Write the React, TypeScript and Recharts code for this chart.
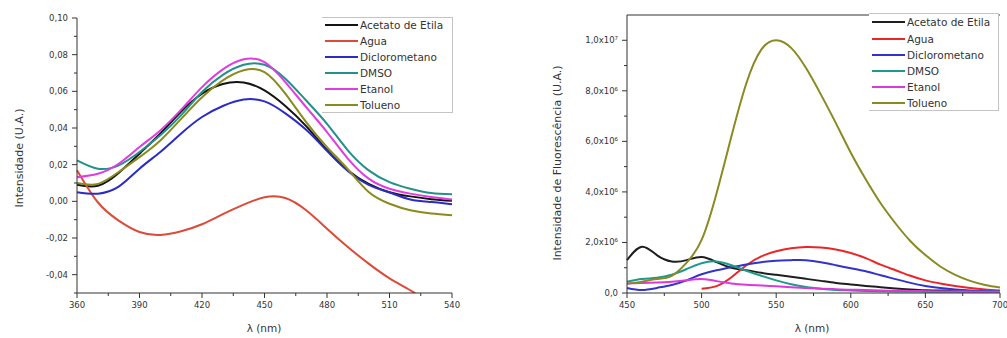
import React from 'react';
import { LineChart, Line, XAxis, YAxis, ReferenceLine } from 'recharts';

// ---------- Absorption (left) ----------
const absWavelengths = [360, 370, 380, 390, 400, 410, 420, 430, 440, 450, 460, 470, 480, 490, 500, 510, 520, 530, 540];
const absAcetato = [0.009, 0.0085, 0.0155, 0.026, 0.037, 0.049, 0.0587, 0.064, 0.0648, 0.0605, 0.052, 0.041, 0.028, 0.017, 0.0095, 0.005, 0.0027, 0.0012, 0.0003];
const absAgua = [0.017, -0.0005, -0.0105, -0.0167, -0.0183, -0.0163, -0.0125, -0.007, -0.0018, 0.0022, 0.0018, -0.0049, -0.0149, -0.0249, -0.034, -0.042, -0.0485, -0.056, -0.063];
const absDicloro = [0.005, 0.0042, 0.008, 0.0178, 0.0269, 0.037, 0.046, 0.052, 0.0555, 0.0545, 0.048, 0.039, 0.0275, 0.0165, 0.009, 0.0048, 0.001, -0.0004, -0.0016];
const absDMSO = [0.0223, 0.0178, 0.0196, 0.0269, 0.036, 0.047, 0.0596, 0.069, 0.0745, 0.0745, 0.0669, 0.055, 0.0423, 0.0278, 0.0169, 0.0105, 0.0069, 0.0045, 0.0038];
const absEtanol = [0.0132, 0.015, 0.0205, 0.0296, 0.0387, 0.05, 0.0623, 0.072, 0.0775, 0.0759, 0.065, 0.0514, 0.0378, 0.0233, 0.0124, 0.0069, 0.0042, 0.0024, 0.001];
const absTolueno = [0.01, 0.0095, 0.016, 0.0241, 0.0332, 0.045, 0.0568, 0.066, 0.0715, 0.0705, 0.0587, 0.0432, 0.0296, 0.0175, 0.0051, -0.0013, -0.0049, -0.0067, -0.0076];

const absXTicks = [360, 390, 420, 450, 480, 510, 540];
const absXMinor = [375, 405, 435, 465, 495, 525];
const absYTicks = [-0.04, -0.02, 0, 0.02, 0.04, 0.06, 0.08, 0.1];
const absYLabels = ['-0,04', '-0,02', '0,00', '0,02', '0,04', '0,06', '0,08', '0,10'];
const absYMinor = [-0.05, -0.03, -0.01, 0.01, 0.03, 0.05, 0.07, 0.09];

// ---------- Fluorescence (right), values in units of 10^6 ----------
const flWavelengths = [450, 460, 470, 480, 490, 500, 510, 520, 530, 540, 550, 560, 570, 580, 590, 600, 610, 620, 630, 640, 650, 660, 670, 680, 690, 700];
const flAcetato = [1.3, 1.83, 1.5, 1.25, 1.3, 1.42, 1.22, 1.0, 0.9, 0.8, 0.72, 0.64, 0.56, 0.48, 0.4, 0.34, 0.28, 0.23, 0.18, 0.14, 0.11, 0.1, 0.09, 0.08, 0.08, 0.08];
const flAgua = [null, null, null, null, null, 0.17, 0.27, 0.62, 1.1, 1.45, 1.65, 1.77, 1.82, 1.8, 1.72, 1.58, 1.38, 1.12, 0.9, 0.68, 0.5, 0.38, 0.28, 0.2, 0.14, 0.1];
const flDicloro = [0.2, 0.12, 0.2, 0.32, 0.5, 0.74, 0.9, 1.02, 1.13, 1.22, 1.28, 1.3, 1.3, 1.22, 1.1, 0.98, 0.86, 0.7, 0.55, 0.4, 0.28, 0.2, 0.14, 0.1, 0.08, 0.07];
const flDMSO = [0.45, 0.55, 0.6, 0.72, 0.95, 1.18, 1.25, 1.1, 0.88, 0.68, 0.5, 0.35, 0.24, 0.17, 0.12, 0.1, 0.08, 0.07, 0.06, 0.06, 0.05, 0.05, 0.05, 0.05, 0.05, 0.05];
const flEtanol = [0.38, 0.4, 0.42, 0.45, 0.5, 0.55, 0.47, 0.38, 0.33, 0.3, 0.27, 0.23, 0.2, 0.17, 0.15, 0.13, 0.12, 0.1, 0.09, 0.08, 0.07, 0.06, 0.06, 0.05, 0.05, 0.05];
const flTolueno = [0.37, 0.45, 0.55, 0.68, 1.2, 2.1, 3.94, 6.2, 8.3, 9.63, 10.0, 9.7, 8.9, 7.85, 6.72, 5.55, 4.5, 3.55, 2.75, 2.05, 1.5, 1.05, 0.72, 0.48, 0.32, 0.22];

const flXTicks = [450, 500, 550, 600, 650, 700];
const flXMinor = [475, 525, 575, 625, 675];
const flYTicks = [0, 2, 4, 6, 8, 10];
const flYLabels = ['0,0', '2,0x10⁶', '4,0x10⁶', '6,0x10⁶', '8,0x10⁶', '1,0x10⁷'];
const flYMinor = [1, 3, 5, 7, 9];

// ---------- Series ----------
const seriesKeys = ['acetato', 'agua', 'dicloro', 'dmso', 'etanol', 'tolueno'];
const seriesNames = ['Acetato de Etila', 'Agua', 'Diclorometano', 'DMSO', 'Etanol', 'Tolueno'];
const absColors = ['#141414', '#de4a38', '#2b2bc6', '#23908a', '#e03ce0', '#8a8a1e'];
const flColors = ['#1e1e1e', '#ec2626', '#3232cc', '#1c9a8c', '#dc38dc', '#8a8a22'];

const absSeries = [absAcetato, absAgua, absDicloro, absDMSO, absEtanol, absTolueno];
const flSeries = [flAcetato, flAgua, flDicloro, flDMSO, flEtanol, flTolueno];

const absData = absWavelengths.map((x, i) => {
  const row: Record<string, number | null> = { x };
  seriesKeys.forEach((k, j) => (row[k] = absSeries[j][i]));
  return row;
});
const flData = flWavelengths.map((x, i) => {
  const row: Record<string, number | null> = { x };
  seriesKeys.forEach((k, j) => (row[k] = flSeries[j][i]));
  return row;
});

const FONT = "'DejaVu Sans', 'Liberation Sans', sans-serif";
const AXIS = '#333';
const TICK_FS = 8.5;

const findIdx = (ticks: number[], v: number) => ticks.findIndex((t) => Math.abs(t - v) < 1e-9);

const makeXTick = (major: number[]) => (props: any) => {
  const { x, y, payload } = props;
  const isMajor = findIdx(major, payload.value) >= 0;
  return (
    <g>
      <line x1={x} x2={x} y1={y} y2={y + (isMajor ? 5 : 3)} stroke={AXIS} strokeWidth={1} />
      {isMajor && (
        <text x={x} y={y + 15} textAnchor="middle" fontSize={TICK_FS} fontFamily={FONT} fill="#333">
          {String(payload.value)}
        </text>
      )}
    </g>
  );
};

const makeYTick = (major: number[], labels: string[]) => (props: any) => {
  const { x, y, payload } = props;
  const i = findIdx(major, payload.value);
  return (
    <g>
      <line x1={x} x2={x - (i >= 0 ? 5 : 3)} y1={y} y2={y} stroke={AXIS} strokeWidth={1} />
      {i >= 0 && (
        <text x={x - 9} y={y} dy="0.35em" textAnchor="end" fontSize={TICK_FS} fontFamily={FONT} fill="#333">
          {labels[i]}
        </text>
      )}
    </g>
  );
};

const absXAll = [...absXTicks, ...absXMinor].sort((a, b) => a - b);
const absYAll = [...absYTicks, ...absYMinor].sort((a, b) => a - b);
const flXAll = [...flXTicks, ...flXMinor].sort((a, b) => a - b);
const flYAll = [...flYTicks, ...flYMinor].sort((a, b) => a - b);

function LegendBox({ left, top, width, height, rows, colors, lineLeft, textLeft }: any) {
  return (
    <div
      style={{
        position: 'absolute',
        left,
        top,
        width,
        height,
        background: '#fff',
        borderTop: '1px solid #c4c4c4',
        borderRight: '1px solid #c4c4c4',
        borderBottom: '1px solid #c4c4c4',
        overflow: 'hidden',
        boxSizing: 'border-box',
      }}
    >
      {seriesNames.map((name, i) => (
        <div key={name} style={{ position: 'absolute', left: 0, top: rows[i] - top - 8, height: 16, width }}>
          <div style={{ position: 'absolute', left: lineLeft, top: 7, width: 33, height: 2, background: colors[i] }} />
          <div
            style={{
              position: 'absolute',
              left: textLeft,
              top: 0,
              fontFamily: FONT,
              fontSize: 10.5,
              color: '#333',
              whiteSpace: 'nowrap',
              lineHeight: '16px',
            }}
          >
            {name}
          </div>
        </div>
      ))}
    </div>
  );
}

function VLabel({ cx, cy, text, size }: { cx: number; cy: number; text: string; size: number }) {
  return (
    <div
      style={{
        position: 'absolute',
        left: cx,
        top: cy,
        transform: 'translate(-50%, -50%) rotate(-90deg)',
        whiteSpace: 'nowrap',
        fontFamily: FONT,
        fontSize: size,
        color: '#333',
      }}
    >
      {text}
    </div>
  );
}

function HLabel({ cx, cy, text }: { cx: number; cy: number; text: string }) {
  return (
    <div
      style={{
        position: 'absolute',
        left: cx,
        top: cy,
        transform: 'translate(-50%, -50%)',
        whiteSpace: 'nowrap',
        fontFamily: FONT,
        fontSize: 10.5,
        color: '#333',
      }}
    >
      {text}
    </div>
  );
}

export default function App() {
  return (
    <div style={{ position: 'absolute', left: 0, top: 0, width: 1007, height: 338, background: '#fff', overflow: 'hidden' }}>
      {/* Left chart */}
      <div style={{ position: 'absolute', left: 0, top: 0 }}>
        <LineChart width={470} height={338} data={absData} margin={{ top: 18, right: 18, bottom: 15, left: 17 }}>
          <XAxis
            dataKey="x"
            type="number"
            domain={[360, 540]}
            ticks={absXAll}
            interval={0}
            height={30}
            tickSize={0}
            tickMargin={0}
            tickLine={false}
            stroke={AXIS}
            tick={makeXTick(absXTicks)}
          />
          <YAxis
            type="number"
            domain={[-0.05, 0.1]}
            allowDataOverflow
            ticks={absYAll}
            interval={0}
            width={60}
            tickSize={0}
            tickMargin={0}
            tickLine={false}
            stroke={AXIS}
            tick={makeYTick(absYTicks, absYLabels)}
          />
          {seriesKeys.map((k, i) => (
            <Line
              key={k}
              dataKey={k}
              name={seriesNames[i]}
              type="natural"
              stroke={absColors[i]}
              strokeWidth={2}
              dot={false}
              activeDot={false}
              isAnimationActive={false}
            />
          ))}
        </LineChart>
      </div>

      {/* Right chart */}
      <div style={{ position: 'absolute', left: 540, top: 0 }}>
        <LineChart width={467} height={338} data={flData} margin={{ top: 15, right: 7, bottom: 15, left: 27 }}>
          <XAxis
            dataKey="x"
            type="number"
            domain={[450, 700]}
            ticks={flXAll}
            interval={0}
            height={30}
            tickSize={0}
            tickMargin={0}
            tickLine={false}
            stroke={AXIS}
            tick={makeXTick(flXTicks)}
          />
          <YAxis
            type="number"
            domain={[0, 11]}
            allowDataOverflow
            ticks={flYAll}
            interval={0}
            width={60}
            tickSize={0}
            tickMargin={0}
            tickLine={false}
            stroke={AXIS}
            tick={makeYTick(flYTicks, flYLabels)}
          />
          <ReferenceLine y={11} stroke={AXIS} strokeWidth={1} />
          {seriesKeys.map((k, i) => (
            <Line
              key={k}
              dataKey={k}
              name={seriesNames[i]}
              type="natural"
              stroke={flColors[i]}
              strokeWidth={2}
              dot={false}
              activeDot={false}
              connectNulls={false}
              isAnimationActive={false}
            />
          ))}
        </LineChart>
      </div>

      <LegendBox left={322} top={17} width={131} height={96} rows={[24, 40, 56, 72, 88, 104]} colors={absColors} lineLeft={3} textLeft={38} />
      <LegendBox left={869} top={13} width={130} height={98} rows={[21, 37.5, 54, 70, 86, 102]} colors={flColors} lineLeft={3} textLeft={38} />

      <VLabel cx={19} cy={158} text="Intensidade (U.A.)" size={11} />
      <VLabel cx={557} cy={163} text="Intensidade de Fluorescência (U.A.)" size={11} />
      <HLabel cx={264} cy={328} text="λ (nm)" />
      <HLabel cx={812} cy={328} text="λ (nm)" />
    </div>
  );
}
